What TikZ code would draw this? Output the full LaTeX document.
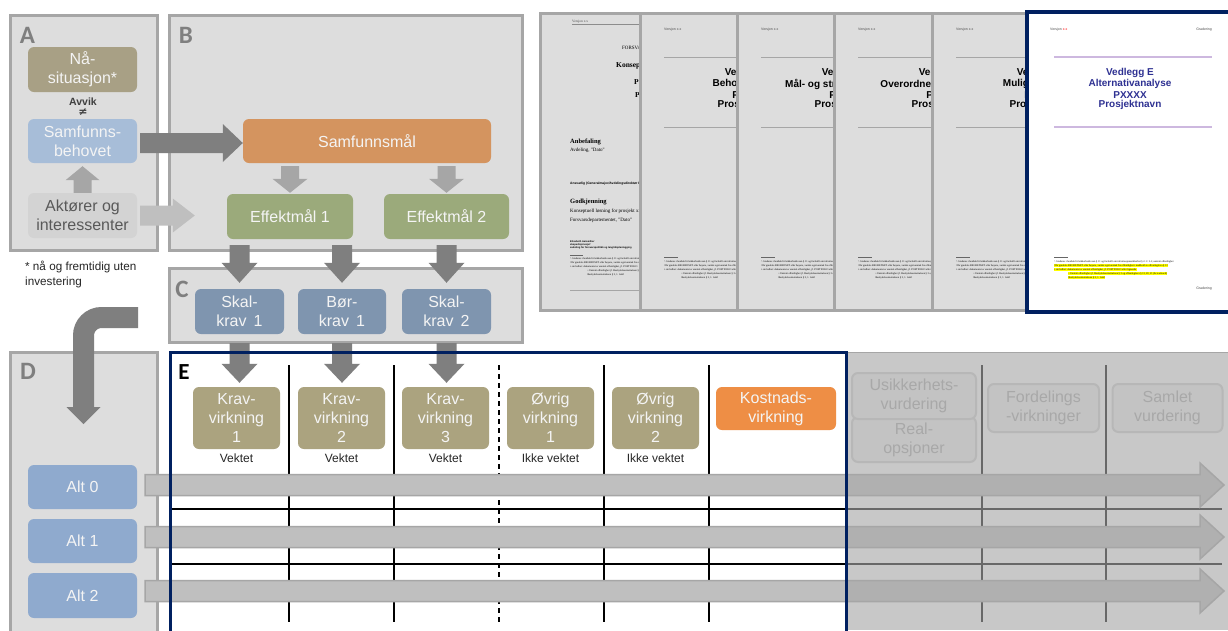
\documentclass[tikz,border=0pt]{standalone}
\usepackage{fontspec}
\setmainfont{Liberation Sans}
\newfontfamily\calfont{Carlito}
\newfontfamily\serfont{Liberation Serif}
\newfontfamily\djfont{DejaVu Sans}
\usetikzlibrary{calc}
\definecolor{panelfill}{HTML}{DDDDDD}
\definecolor{panelline}{HTML}{A6A6A6}
\definecolor{labgray}{HTML}{7F7F7F}
\definecolor{nacol}{HTML}{A8A085}
\definecolor{behcol}{HTML}{A7BDD8}
\definecolor{aktcol}{HTML}{D3D3D3}
\definecolor{samcol}{HTML}{D4945F}
\definecolor{effcol}{HTML}{9BAA7B}
\definecolor{krcol}{HTML}{7F95AF}
\definecolor{kvcol}{HTML}{ABA37F}
\definecolor{kostcol}{HTML}{EE8E45}
\definecolor{altcol}{HTML}{8FAACE}
\definecolor{darkarrow}{HTML}{7F7F7F}
\definecolor{midarrow}{HTML}{A6A6A6}
\definecolor{lightarrow}{HTML}{BFBFBF}
\definecolor{navyc}{HTML}{002060}
\definecolor{overlayc}{HTML}{A7A7A7}
\definecolor{titleblue}{HTML}{2E3192}
\definecolor{lilac}{HTML}{CDB8DF}
\definecolor{gboxfill}{HTML}{C3C3C3}
\definecolor{gboxline}{HTML}{B7B7B7}
\definecolor{gboxtext}{HTML}{A8A8A8}
\definecolor{hilite}{HTML}{FFFF00}
\definecolor{boxtext}{HTML}{F4F4F4}
\tikzset{
  panel/.style={draw=panelline, line width=3pt, fill=panelfill},
  lab/.style={font=\calfont\bfseries\fontsize{25}{25}\selectfont, text=labgray, inner sep=0pt},
  box/.style={rounded corners=6pt, align=center, inner sep=0pt, text=boxtext, font=\fontsize{16}{19}\selectfont},
  wbox/.style={box, minimum width=109pt, minimum height=44pt},
  kv/.style={box, fill=kvcol, minimum width=87pt, minimum height=62pt},
  kr/.style={box, fill=krcol, minimum width=89pt, minimum height=45pt},
  wtxt/.style={font=\fontsize{12}{14}\selectfont, text=black!85, inner sep=0pt},
  gbox/.style={box, fill=gboxfill, draw=gboxline, line width=2pt, text=gboxtext},
  gridl/.style={line width=1.3pt, black},
  hdr/.style={font=\fontsize{3.5}{4}\selectfont, text=black!70, inner sep=0pt},
  ttl/.style={font=\bfseries\fontsize{10}{11}\selectfont, inner sep=0pt},
  fnt/.style={font=\serfont\fontsize{2.6}{3}\selectfont, inner xsep=0.3pt, inner ysep=0pt, anchor=west},
  stx/.style={font=\serfont\fontsize{5}{6}\selectfont, inner sep=0pt, anchor=west},
  sbx/.style={font=\serfont\bfseries\fontsize{6.5}{7}\selectfont, inner sep=0pt, anchor=west},
  docline/.style={line width=1pt, black!35},
  bigarrow/.style={fill=lightarrow, draw=midarrow, line width=1.5pt},
}
\newcommand\blkright[6]{\path[#6] let \p1=#1, \p2=#2 in (\x1,\y1-#3pt) -- (\x2-#5pt,\y1-#3pt) -- (\x2-#5pt,\y1-#4pt) -- (\x2,\y1) -- (\x2-#5pt,\y1+#4pt) -- (\x2-#5pt,\y1+#3pt) -- (\x1,\y1+#3pt) -- cycle;}
\newcommand\blkdown[6]{\path[#6] let \p1=#1, \p2=#2 in (\x1-#3pt,\y1) -- (\x1-#3pt,\y2+#5pt) -- (\x1-#4pt,\y2+#5pt) -- (\x1,\y2) -- (\x1+#4pt,\y2+#5pt) -- (\x1+#3pt,\y2+#5pt) -- (\x1+#3pt,\y1) -- cycle;}
\newcommand\blkup[6]{\path[#6] let \p1=#1, \p2=#2 in (\x1-#3pt,\y1) -- (\x1-#3pt,\y2-#5pt) -- (\x1-#4pt,\y2-#5pt) -- (\x1,\y2) -- (\x1+#4pt,\y2-#5pt) -- (\x1+#3pt,\y2-#5pt) -- (\x1+#3pt,\y1) -- cycle;}
\newcommand\docfoot[1]{%
  \draw[line width=0.6pt, black!60] (#1+24,257) -- (#1+38,257);
  \node[fnt] (f#1a) at (#1+24,261.5) {¹ Graderes i henhold til sikkerhetsloven § 11 og forskrift om informasjonssikkerhet § 2-1 / 2-2, unntatt offentlighet};
  \node[fnt] (f#1b) at (#1+24,265.5) {Når graderte BEGRENSET eller høyere, vurder også unntak fra offentlighet i medhold av offentleglova § 13 og § 20};
  \node[fnt] (f#1c) at (#1+24,269.5) {i sin helhet: dokumentet er unntatt offentlighet, jf. POSTFOLIO eller lignende};
  \node[fnt] (f#1d) at (#1+41,273.5) {• Unntatt offentlighet jf. Beskyttelsesinstruksen § 3 og offentleglova § 13, 20, 21};
  \node[fnt] (f#1e) at (#1+41,277.5) {Beskyttelsesinstruksen § 5, 1. ledd};
}
\newcommand\graypage[3]{%
  \fill[panelfill] (#1,13) rectangle (#1+201,310);
  \draw[panelline,line width=3pt] (#1,13) rectangle (#1+201,310);
  \node[hdr,anchor=west] (h#1) at (#1+24,29.5) {Versjon x.x};
  \draw[docline] (#1+24,57) -- (#1+180,57);
  \node[ttl] (t#1a) at (#1+109,73) {#2};
  \node[ttl] (t#1b) at (#1+109,84) {#3};
  \node[ttl] (t#1c) at (#1+109,95) {PXXXX};
  \node[ttl] (t#1d) at (#1+109,105) {Prosjektnavn};
  \draw[docline] (#1+24,127) -- (#1+180,127);
  \docfoot{#1}
}
\begin{document}
\begin{tikzpicture}[x=1pt,y=-1pt]
\useasboundingbox (0,0) rectangle (1228,630);
\fill[white] (0,0) rectangle (1228,630);

% ---------- document stack ----------
\fill[panelfill] (540,13) rectangle (741,310);
\draw[panelline,line width=3pt] (540,13) rectangle (741,310);
\node[hdr,anchor=west,font=\serfont\fontsize{3.5}{4}\selectfont] (p1h) at (572,21.5) {Versjon x.x};
\draw[line width=0.8pt, black!45] (572,24.5) -- (720,24.5);
\node[stx] (p1a) at (622,48) {FORSVARSDEPARTEMENTET};
\node[sbx,font=\serfont\bfseries\fontsize{7.5}{8}\selectfont] (p1b) at (616,66) {Konseptvalgutredning};
\node[sbx,font=\serfont\bfseries\fontsize{7.5}{8}\selectfont] (p1c) at (634,82) {PXXXX};
\node[sbx,font=\serfont\bfseries\fontsize{7.5}{8}\selectfont] (p1d) at (635,96) {Prosjektnavn};
\node[sbx] (p1e) at (570,142) {Anbefaling};
\node[stx] (p1f) at (570,150.5) {Avdeling, "Dato"};
\node[stx,font=\bfseries\fontsize{3.3}{4}\selectfont] (p1g) at (570,184) {Ansvarlig (Generalmajor/Avdelingsdirektør Fellesstab)};
\node[sbx] (p1i) at (570,202) {Godkjenning};
\node[stx] (p1j) at (570,211) {Konseptuell løsning for prosjekt xxxx anbefales};
\node[stx] (p1k) at (570,220) {Forsvarsdepartementet, "Dato"};
\node[stx,font=\bfseries\fontsize{2.5}{3}\selectfont] (p1l) at (570,241.5) {Elisabeth Aarsæther};
\node[stx,font=\bfseries\fontsize{2.5}{3}\selectfont] (p1m) at (570,244.7) {ekspedisjonssjef};
\node[stx,font=\bfseries\fontsize{2.5}{3}\selectfont] (p1n) at (570,247.9) {avdeling for forsvarspolitikk og langtidsplanlegging};
\draw[line width=0.6pt, black!60] (570,255) -- (583,255);
\node[fnt] (p1o) at (570,259) {¹ Graderes i henhold til sikkerhetsloven § 11 og forskrift om informasjonssikkerhet};
\node[fnt] (p1p) at (570,263) {Når graderte BEGRENSET eller høyere, vurder også unntak fra offentlighet};
\node[fnt] (p1q) at (570,267) {i sin helhet: dokumentet er unntatt offentlighet, jf. POSTFOLIO};
\node[fnt] (p1r) at (587,271) {• Unntatt offentlighet jf. Beskyttelsesinstruksen § 3};
\node[fnt] (p1s) at (587,275) {Beskyttelsesinstruksen § 5, 1. ledd};
\draw[docline] (570,290.5) -- (720,290.5);

\graypage{640}{Vedlegg A}{Behovsanalyse}
\graypage{737}{Vedlegg B}{Mål- og strategidokument}
\graypage{834}{Vedlegg C}{Overordnet kravdokument}
\graypage{932}{Vedlegg D}{Mulighetsstudie}

% front page
\fill[white] (1027,12) rectangle (1233,312);
\node[hdr,anchor=west] (fph) at (1050,30) {Versjon {\color{red}x.x}};
\node[hdr,anchor=east] (fpg) at (1212,30) {Gradering};
\draw[lilac,line width=1.6pt] (1054,57) -- (1212,57);
\node[ttl,text=titleblue] (fpa) at (1130,73) {Vedlegg E};
\node[ttl,text=titleblue] (fpb) at (1130,84) {Alternativanalyse};
\node[ttl,text=titleblue] (fpc) at (1130,95) {PXXXX};
\node[ttl,text=titleblue] (fpd) at (1130,105) {Prosjektnavn};
\draw[lilac,line width=1.6pt] (1054,127) -- (1212,127);
\draw[line width=0.6pt, black!60] (1054,257) -- (1068,257);
\node[fnt] (fpe) at (1054,261.5) {¹ Graderes i henhold til sikkerhetsloven § 11 og forskrift om informasjonssikkerhet § 2-1 / 2-2, unntatt offentlighet};
\node[fnt,fill=hilite] (fpf) at (1054,265.5) {Når graderte BEGRENSET eller høyere, vurder også unntak fra offentlighet i medhold av offentleglova § 13};
\node[fnt,fill=hilite] (fpi) at (1054,269.5) {i sin helhet: dokumentet er unntatt offentlighet, jf. POSTFOLIO eller lignende};
\node[fnt,fill=hilite] (fpj) at (1068,273.5) {• Unntatt offentlighet jf. Beskyttelsesinstruksen § 3 og offentleglova § 13, 20, 21 (hvis aktuelt)};
\node[fnt,fill=hilite] (fpk) at (1068,277.5) {Beskyttelsesinstruksen § 5, 1. ledd};
\node[hdr,anchor=east] (fpl) at (1212,289) {Gradering};
\draw[navyc,line width=3.5pt] (1027,12) rectangle (1233,312);

% ---------- panels A, B, C ----------
\draw[panel] (10,15) rectangle (157,250);
\draw[panel] (169,15) rectangle (522,250);
\draw[panel] (169,268) rectangle (522,342);
\node[lab] (labA) at (27.5,35) {A};
\node[lab] (labB) at (186,35) {B};
\node[lab] (labC) at (182,289) {C};

\node[wbox,fill=nacol,minimum height=45pt] (nasit) at (82.5,69.5) {Nå-\\situasjon*};
\node[font=\bfseries\fontsize{10.5}{12}\selectfont,text=black!75,inner sep=0pt] (avvik) at (83,101.5) {Avvik};
\node[font=\djfont\bfseries\fontsize{11}{12}\selectfont,text=black!75,inner sep=0pt] (neq) at (83,112) {≠};
\node[wbox,fill=behcol] (behov) at (82.5,141) {Samfunns-\\behovet};
\node[wbox,fill=aktcol,text=black!65,minimum height=45pt] (akt) at (82.5,215.5) {Aktører og\\interessenter};

\node[box,fill=samcol,minimum width=248pt,minimum height=44pt] (samf) at (367,141) {Samfunnsmål};
\node[box,fill=effcol,minimum width=126pt,minimum height=45pt] (eff1) at (290,216.5) {Effektmål 1};
\node[box,fill=effcol,minimum width=125pt,minimum height=45pt] (eff2) at (446.5,216.5) {Effektmål 2};

\node[kr] (sk1) at (239.5,311.5) {Skal-\\krav\, 1};
\node[kr,minimum width=88pt] (bk1) at (342,311.5) {Bør-\\krav\, 1};
\node[kr] (sk2) at (446.5,311.5) {Skal-\\krav\, 2};

\node[font=\fontsize{11.7}{15}\selectfont,text=black!85,align=left,anchor=north west,inner sep=0pt] (fotnote) at (25,261) {* nå og fremtidig uten\\investering};

% arrows A/B/C
\blkup{(akt.north)}{($(behov.south)+(0,3)$)}{9}{17}{14}{fill=midarrow}
\blkright{($(behov.east)+(3,2)$)}{($(samf.west)+(0,2)$)}{10}{19}{20}{fill=darkarrow}
\blkright{($(akt.east)+(3,0)$)}{($(eff1.west)+(-32,0)$)}{10}{17}{22}{fill=lightarrow}
\blkdown{($(samf.south -| eff1.north)+(0,3)$)}{($(eff1.north)+(0,-1)$)}{9}{17.5}{14}{fill=midarrow}
\blkdown{($(samf.south -| eff2.north)+(0,3)$)}{($(eff2.north)+(0,-1)$)}{9}{17.5}{14}{fill=midarrow}
\blkdown{($(eff1.south -| sk1.north)+(0,6)$)}{($(sk1.north)+(0,-6)$)}{10}{18}{20}{fill=darkarrow}
\blkdown{($(eff1.south -| bk1.north)+(0,6)$)}{($(bk1.north)+(0,-6)$)}{10}{18}{20}{fill=darkarrow}
\blkdown{($(eff2.south -| sk2.north)+(0,6)$)}{($(sk2.north)+(0,-6)$)}{10}{18}{20}{fill=darkarrow}

% ---------- panel D ----------
\draw[panel] (10,352) rectangle (157,645);
\node[lab] (labD) at (28,371) {D};
\coordinate (dstart) at (138,317.5);
\coordinate (dbend) at (83.5,317.5);
\coordinate (dhead) at (83.5,407);
\coordinate (dtip) at (83.5,424);
\draw[darkarrow,line width=21pt,rounded corners=18pt] (dstart) -- (dbend) -- ($(dhead)+(0,0.5)$);
\fill[darkarrow] ($(dhead)+(-17,0)$) -- ($(dhead)+(17,0)$) -- (dtip) -- cycle;

\node[wbox,fill=altcol] (alt0) at (82.5,487) {Alt 0};
\node[wbox,fill=altcol] (alt1) at (82.5,541) {Alt 1};
\node[wbox,fill=altcol,minimum height=45pt] (alt2) at (82.5,595.5) {Alt 2};

% ---------- panel E ----------
\fill[white] (170,352) rectangle (846,645);
\foreach \gx in {289,394,604,709,982,1106} {\draw[gridl] (\gx,365) -- (\gx,622);}
\draw[gridl,dash pattern=on 5pt off 4pt] (499,365) -- (499,622);
\draw[gridl] (170,509) -- (1222,509);
\draw[gridl] (170,564) -- (1222,564);

\node[font=\calfont\bfseries\fontsize{23}{23}\selectfont,inner sep=0pt] (labE) at (184,372) {E};

\node[kv] (kv1) at (236.5,418) {Krav-\\virkning\\1};
\node[kv] (kv2) at (341.5,418) {Krav-\\virkning\\2};
\node[kv] (kv3) at (445.5,418) {Krav-\\virkning\\3};
\node[kv] (ov1) at (550.5,418) {Øvrig\\virkning\\1};
\node[kv] (ov2) at (655.5,418) {Øvrig\\virkning\\2};
\node[box,fill=kostcol,minimum width=120pt,minimum height=43pt] (kost) at (776,408.5) {Kostnads-\\virkning};
\node[wtxt] (w1) at (236.5,458) {Vektet};
\node[wtxt] (w2) at (341.5,458) {Vektet};
\node[wtxt] (w3) at (445.5,458) {Vektet};
\node[wtxt] (w4) at (550.5,458) {Ikke vektet};
\node[wtxt] (w5) at (655.5,458) {Ikke vektet};

\blkdown{($(sk1.south)+(0,9)$)}{($(sk1.south |- kv1.north)+(0,-4)$)}{10}{18}{19}{fill=darkarrow}
\blkdown{($(bk1.south)+(0,9)$)}{($(bk1.south |- kv2.north)+(0,-4)$)}{10}{18}{19}{fill=darkarrow}
\blkdown{($(sk2.south)+(0,9)$)}{($(sk2.south |- kv3.north)+(0,-4)$)}{10}{18}{19}{fill=darkarrow}

% big alternative arrows
\coordinate (end0) at (1224,485);
\coordinate (end1) at (1224,537);
\coordinate (end2) at (1224,591);
\blkright{($(alt0.east)+(8,-2)$)}{(end0)}{10.5}{22}{24}{bigarrow}
\blkright{($(alt1.east)+(8,-4)$)}{(end1)}{10.5}{22}{24}{bigarrow}
\blkright{($(alt2.east)+(8,-4.5)$)}{(end2)}{10.5}{22}{24}{bigarrow}

% dimmed region
\fill[overlayc,opacity=0.625] (847.5,352) rectangle (1228,630);
\draw[black!35,line width=1.2pt] (847.5,352.6) -- (1228,352.6);
\node[gbox,minimum width=124pt,minimum height=45pt] (real) at (914,439.5) {Real-\\opsjoner};
\node[gbox,minimum width=124pt,minimum height=46pt] (usik) at (914,396) {Usikkerhets-\\vurdering};
\node[gbox,minimum width=111pt,minimum height=48pt] (ford) at (1043.5,408) {Fordelings\\-virkninger};
\node[gbox,minimum width=110pt,minimum height=48pt] (saml) at (1167.5,408) {Samlet\\vurdering};

\draw[navyc,line width=3pt] (170,645) -- (170,352) -- (846,352) -- (846,645);
\end{tikzpicture}
\end{document}
